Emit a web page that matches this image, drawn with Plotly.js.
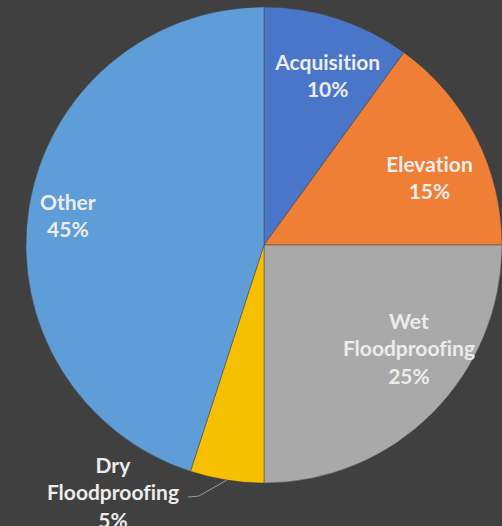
<!DOCTYPE html>
<html>
<head>
<meta charset="utf-8">
<script src="https://cdn.plot.ly/plotly-3.0.1.min.js"></script>
<style>
  html, body { margin: 0; padding: 0; background: #404040; }
  #chart { width: 502px; height: 526px; }
  #chart text { font-variant-ligatures: none; font-feature-settings: "liga" 0; }
</style>
</head>
<body>
<div id="chart"></div>
<script>
// Share of flood mitigation measures
const categories = ['Acquisition', 'Elevation', 'Wet Floodproofing', 'Dry Floodproofing', 'Other'];
const labelText = ['Acquisition', 'Elevation', 'Wet<br>Floodproofing', 'Dry<br>Floodproofing', 'Other'];
const shares = [10, 15, 25, 5, 45];

const colors = ['#4a76c9', '#ee7f34', '#a9a9a9', '#f6bf00', '#5e9dd8'];

const W = 502, H = 526;
const cx = 264, cy = 245, R = 238;   // pie centre and radius in pixels

// Label placement: fraction of the radius and small per-label nudges (px)
const labelRadius = 0.76;
const nudge = [[7, 2.5], [4, 14], [17, -25], [0, 0], [-17, -1.5]];

const total = shares.reduce((a, b) => a + b, 0);
const annotations = [];
const shapes = [];
let cum = 0;
shares.forEach((v, i) => {
  const mid = (cum + v / 2) / total * 2 * Math.PI;   // clockwise from 12 o'clock
  cum += v;
  const pct = Math.round(v / total * 100) + '%';
  const txt = labelText[i] + '<br>' + pct;
  const font = { family: 'Lato, "Open Sans", sans-serif', size: 21, color: '#ececec', weight: 700 };
  if (v / total < 0.08) {
    // small slice: label outside with a leader line to the rim
    const ex = cx + R * Math.sin(mid), ey = cy - R * Math.cos(mid);
    const tx = ex - 114, ty = ey + 12;
    annotations.push({
      xref: 'paper', yref: 'paper', x: tx / W, y: (H - ty) / H,
      xanchor: 'center', yanchor: 'middle', text: txt, showarrow: false, font: font
    });
    shapes.push({
      type: 'path', xref: 'paper', yref: 'paper',
      path: 'M' + (ex - 39) / W + ',' + (H - ey - 17) / H +
            ' L' + (ex - 28) / W + ',' + (H - ey - 16) / H +
            ' L' + ex / W + ',' + (H - ey) / H,
      line: { color: '#9a9a9a', width: 1 }
    });
  } else {
    const r = R * labelRadius;
    const x = cx + r * Math.sin(mid) + nudge[i][0];
    const y = cy - r * Math.cos(mid) + nudge[i][1];
    annotations.push({
      xref: 'paper', yref: 'paper', x: x / W, y: (H - y) / H,
      xanchor: 'center', yanchor: 'middle', text: txt, showarrow: false, font: font
    });
  }
});

const trace = {
  type: 'pie',
  labels: categories,
  values: shares,
  sort: false,
  direction: 'clockwise',
  rotation: 0,
  textinfo: 'none',
  hoverinfo: 'label+percent',
  marker: { colors: colors, line: { color: 'rgba(70,70,70,0.6)', width: 0.8 } },
  domain: { x: [(cx - R) / W, (cx + R) / W], y: [(H - cy - R) / H, (H - cy + R) / H] },
  showlegend: false
};

const layout = {
  width: W, height: H,
  margin: { l: 0, r: 0, t: 0, b: 0 },
  paper_bgcolor: '#404040',
  plot_bgcolor: '#404040',
  annotations: annotations,
  shapes: shapes
};

Plotly.newPlot('chart', [trace], layout, { staticPlot: true });
</script>
</body>
</html>
